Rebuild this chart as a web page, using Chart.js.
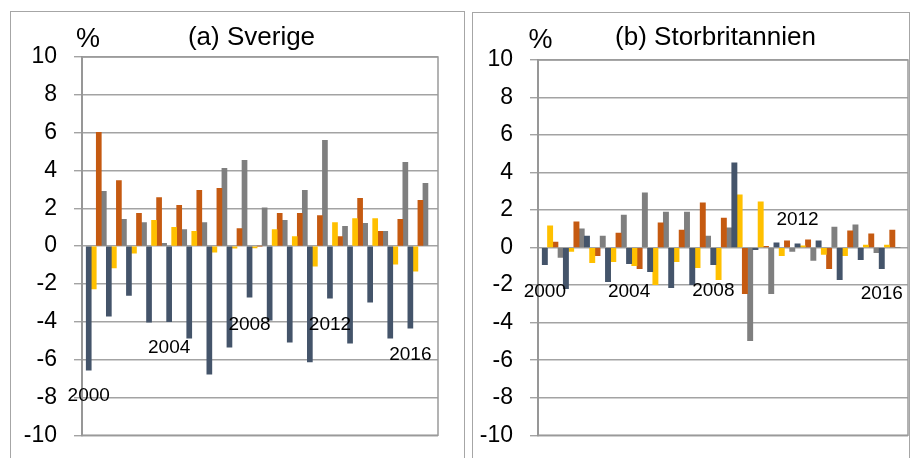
<!DOCTYPE html>
<html>
<head>
<meta charset="utf-8">
<script src="https://cdn.jsdelivr.net/npm/chart.js@4.4.1/dist/chart.umd.min.js"></script>
<style>
  html, body { margin: 0; padding: 0; background: #fff; }
  body { width: 910px; height: 458px; position: relative; overflow: hidden; }
  .ram { position: absolute; border: 1px solid #a6a6a6; box-sizing: border-box; height: 470px; }
  /* lite högre än fönstret: y-axelns etikettmarginal tar ~31px i botten */
  .yta { position: absolute; top: 0; height: 466px; }
</style>
</head>
<body>
<div class="ram" style="left:10px; top:11px; width:455px;"></div>
<div class="ram" style="left:472px; top:12px; width:438px;"></div>
<div class="yta" style="left:0; width:466px;"><canvas id="sverigeChart"></canvas></div>
<div class="yta" style="left:466px; width:444px;"><canvas id="storbritannienChart"></canvas></div>
<script>
// År på x-axeln
const ar = [2000, 2001, 2002, 2003, 2004, 2005, 2006, 2007, 2008,
            2009, 2010, 2011, 2012, 2013, 2014, 2015, 2016];

// (a) Sverige, fyra serier i procent
const sverigeSerie1 = [-6.56, -3.70, -2.61, -4.02, -3.99, -4.87, -6.77, -5.34, -2.70,
                       -3.92, -5.08, -6.12, -2.75, -5.13, -2.96, -4.87, -4.34];
const sverigeSerie2 = [-2.26, -1.16, -0.37, 1.36, 0.99, 0.78, -0.32, -0.11, -0.10,
                       0.88, 0.51, -1.06, 1.25, 1.46, 1.46, -0.95, -1.32];
const sverigeSerie3 = [6.01, 3.47, 1.73, 2.57, 2.15, 2.95, 3.05, 0.93, 0,
                       1.73, 1.73, 1.62, 0.51, 2.52, 0.78, 1.41, 2.42];
const sverigeSerie4 = [2.89, 1.41, 1.25, 0.14, 0.88, 1.25, 4.11, 4.53, 2.03,
                       1.36, 2.95, 5.59, 1.04, 1.20, 0.78, 4.43, 3.32];

// (b) Storbritannien
const ukSerie1 = [-0.91, -2.19, 0.62, -1.81, -0.85, -1.28, -2.13, -1.97, -0.91,
                  4.52, -0.11, 0.25, 0.20, 0.36, -1.71, -0.64, -1.12];
const ukSerie2 = [1.16, -0.21, -0.80, -0.75, -0.96, -1.97, -0.75, -1.07, -1.71,
                  2.81, 2.44, -0.43, 0.09, -0.37, -0.43, 0.14, 0.14];
const ukSerie3 = [0.30, 1.37, -0.43, 0.78, -1.12, 1.32, 0.94, 2.38, 1.58,
                  -2.45, 0.07, 0.36, 0.41, -1.12, 0.89, 0.73, 0.94];
const ukSerie4 = [-0.53, 1.00, 0.62, 1.74, 2.92, 1.90, 1.90, 0.62, 1.05,
                  -4.96, -2.45, -0.21, -0.69, 1.10, 1.21, -0.27, 0];

// Årtal som skrivs ut i diagrammen
const arEtiketter = ['2000', '2004', '2008', '2012', '2016'];

// y-axelns steg
const yMin = -10;
const yMax = 10;
const ySteg = 2;

const farger = ['#44546A', '#FFC000', '#C55A11', '#7F7F7F'];
const typsnitt = '"Liberation Sans", Arial, sans-serif';

// Ritar ram runt plotytan, titel, % och årtal
const panelText = {
    id: 'panelText',
    beforeDatasetsDraw(chart) {
        const {ctx, chartArea} = chart;
        ctx.save();
        ctx.strokeStyle = '#9a9a9a';
        ctx.lineWidth = 1.5;
        ctx.strokeRect(chartArea.left, chartArea.top,
                       chartArea.right - chartArea.left, chartArea.bottom - chartArea.top);
        ctx.restore();
    },
    afterDatasetsDraw(chart, args, opts) {
        const {ctx} = chart;
        const yScale = chart.scales.y;
        const staplar = chart.getDatasetMeta(0).data;
        ctx.save();
        ctx.fillStyle = '#000';
        ctx.textAlign = 'center';

        ctx.font = '19px ' + typsnitt;
        ctx.textBaseline = 'middle';
        arEtiketter.forEach((txt, i) => {
            const idx = ar.indexOf(Number(txt));
            ctx.fillText(txt, staplar[idx].x, yScale.getPixelForValue(opts.etikettY[i]));
        });

        ctx.textBaseline = 'alphabetic';
        ctx.font = '26px ' + typsnitt;
        ctx.fillText(opts.titel, opts.titelX, opts.titelY);
        ctx.font = '27px ' + typsnitt;
        ctx.fillText('%', opts.procentX, opts.procentY);
        ctx.restore();
    }
};

function skapaDiagram(id, serier, inst) {
    const ctx = document.getElementById(id).getContext('2d');
    return new Chart(ctx, {
        type: 'bar',
        data: {
            labels: ar,
            datasets: serier.map((s, i) => ({
                label: 'Serie ' + (i + 1),
                data: s,
                backgroundColor: farger[i],
                borderWidth: 0,
                categoryPercentage: 1,
                barPercentage: 1
            }))
        },
        plugins: [panelText],
        options: {
            responsive: true,
            maintainAspectRatio: false,
            animation: false,
            layout: { padding: inst.padding },
            plugins: {
                legend: { display: false },
                tooltip: { enabled: false },
                panelText: inst.text
            },
            scales: {
                x: {
                    type: 'linear',
                    display: false,
                    offset: false,
                    bounds: 'data',
                    min: inst.xMin,
                    max: inst.xMax,
                    afterBuildTicks: function(axis) {
                        axis.ticks = ar.map(v => ({ value: v }));
                    }
                },
                y: {
                    min: yMin,
                    max: yMax,
                    ticks: {
                        stepSize: ySteg,
                        color: '#000',
                        padding: 17,
                        font: { family: typsnitt, size: 23 }
                    },
                    grid: { color: '#a3a3a3', lineWidth: 1.4, tickLength: 8 },
                    border: { display: true, color: '#8c8c8c', width: 2 },
                    afterFit: function(axis) { axis.width = 60; }
                }
            }
        }
    });
}

skapaDiagram('sverigeChart',
    [sverigeSerie1, sverigeSerie2, sverigeSerie3, sverigeSerie4],
    {
        padding: { left: 22, right: 28, top: 57, bottom: 23 },
        xMin: 1999.29, xMax: 2017.0,
        text: {
            titel: '(a) Sverige', titelX: 251.5, titelY: 44.5,
            procentX: 88, procentY: 46.5,
            etikettY: [-7.94, -5.40, -4.18, -4.18, -5.77]
        }
    });

skapaDiagram('storbritannienChart',
    [ukSerie1, ukSerie2, ukSerie3, ukSerie4],
    {
        padding: { left: 12, right: 2, top: 60, bottom: 23 },
        xMin: 1999.3, xMax: 2016.87,
        text: {
            titel: '(b) Storbritannien', titelX: 249.5, titelY: 45,
            procentX: 74.5, procentY: 48,
            etikettY: [-2.37, -2.37, -2.32, 1.47, -2.48]
        }
    });
</script>
</body>
</html>
